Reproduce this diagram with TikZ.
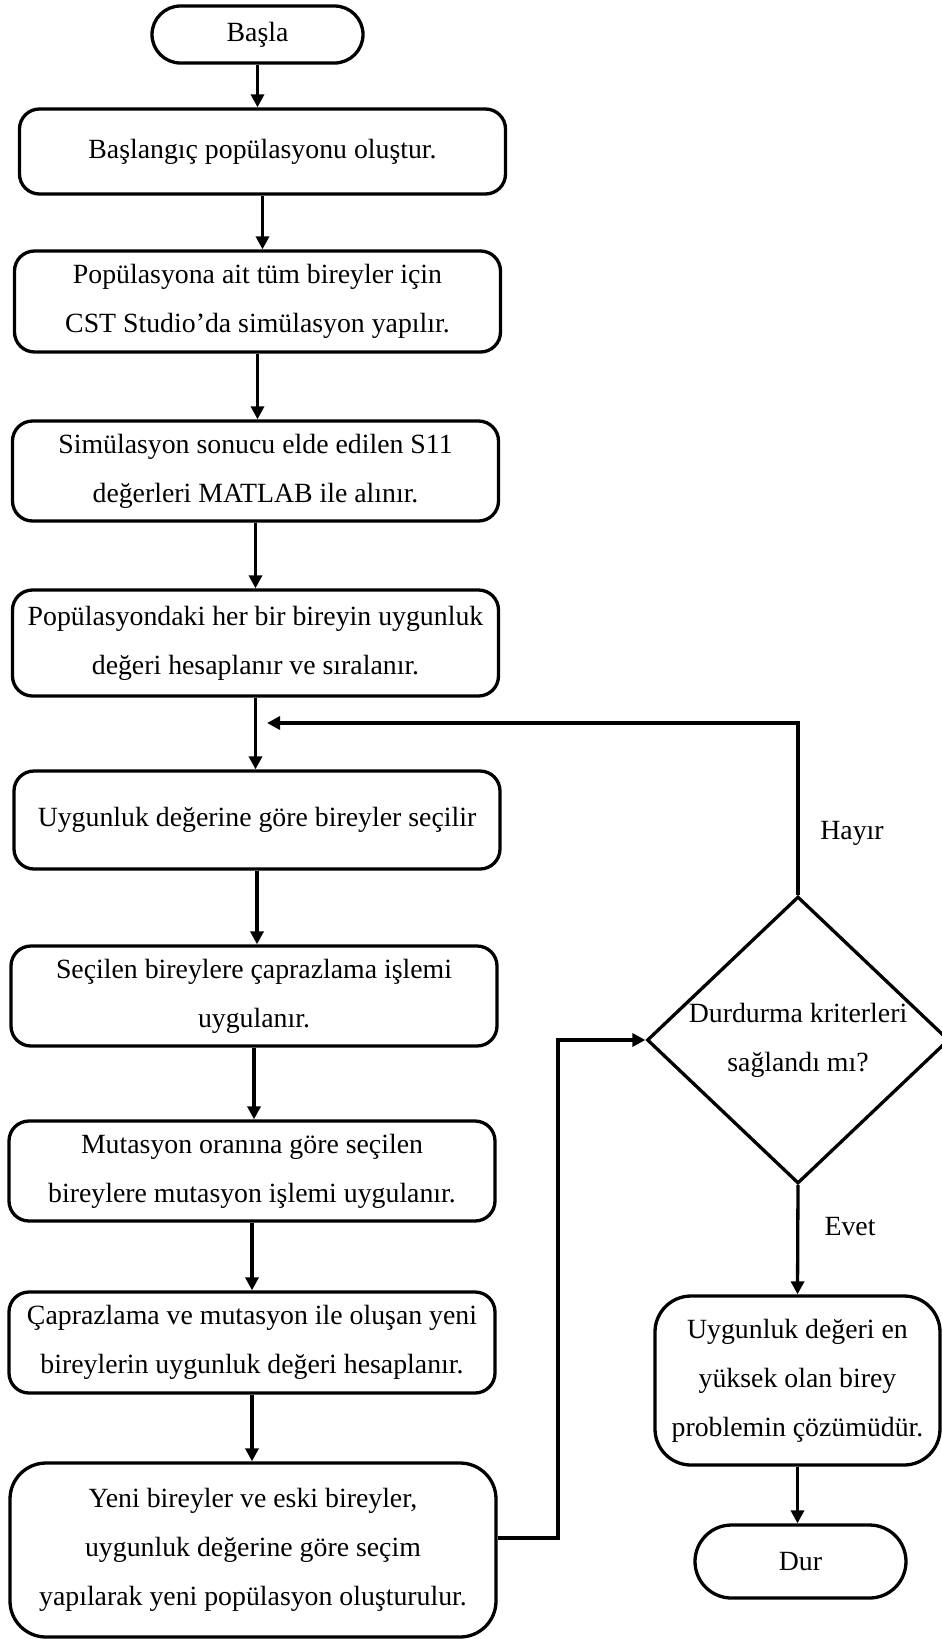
\documentclass[tikz,border=0pt]{standalone}
\usepackage{fontspec}
\setmainfont{Liberation Serif}
\usetikzlibrary{shapes.geometric,shapes.misc,arrows.meta}

\begin{document}
\begin{tikzpicture}[x=1pt,y=-1pt,line width=3.3pt,
        every node/.style={font=\fontsize{27.8}{49}\selectfont},
        term/.style={draw,rounded rectangle,minimum width=211pt,inner sep=0pt},
        proc/.style={draw,rectangle,rounded corners=20pt,align=center,minimum width=486pt,inner sep=0pt},
        decision/.style={draw,diamond,aspect=1.05,inner sep=0pt,minimum width=302pt,minimum height=287pt,align=center},
        arr/.style={-{Triangle[length=13pt,width=13pt]}}]
        \useasboundingbox (0,0) rectangle (942,1639);

        % left column
        \node[term,minimum height=57pt] (start) at (257.5,34.5) {Başla};
        \node[proc,minimum height=85pt] (b1) at (262.5,151.5) {Başlangıç popülasyonu oluştur.};
        \node[proc,minimum height=101pt] (b2) at (257.5,301.5) {Popülasyona ait tüm bireyler için\\CST Studio’da simülasyon yapılır.};
        \node[proc,minimum height=100pt] (b3) at (255.5,471) {Simülasyon sonucu elde edilen S11\\değerleri MATLAB ile alınır.};
        \node[proc,minimum height=106pt] (b4) at (255.5,643) {Popülasyondaki her bir bireyin uygunluk\\değeri hesaplanır ve sıralanır.};
        \node[proc,minimum height=98pt] (b5) at (257,820) {Uygunluk değerine göre bireyler seçilir};
        \node[proc,minimum height=100pt] (b6) at (254,996) {Seçilen bireylere çaprazlama işlemi\\uygulanır.};
        \node[proc,minimum height=100pt] (b7) at (252,1171) {Mutasyon oranına göre seçilen\\bireylere mutasyon işlemi uygulanır.};
        \node[proc,minimum height=101pt] (b8) at (252,1342.5) {Çaprazlama ve mutasyon ile oluşan yeni\\bireylerin uygunluk değeri hesaplanır.};
        \node[proc,minimum height=174pt,rounded corners=36pt] (b9) at (253,1550) {Yeni bireyler ve eski bireyler,\\uygunluk değerine göre seçim\\yapılarak yeni popülasyon oluşturulur.};

        % right column
        \node[decision] (dec) at (798,1040) {Durdurma kriterleri\\sağlandı mı?};
        \node[proc,minimum width=285pt,minimum height=169pt,rounded corners=36pt] (res) at (797.5,1380.5) {Uygunluk değeri en\\yüksek olan birey\\problemin çözümüdür.};
        \node[term,minimum height=73pt] (stop) at (800.5,1561.5) {Dur};

        \node (hayir) at (852,833) {Hayır};
        \node (evet) at (850,1227) {Evet};

        \foreach \a/\b in {start/b1,b1/b2,b2/b3,b3/b4,b4/b5,b5/b6,b6/b7,b7/b8,b8/b9}
            \draw[arr] (\a.south) -- (\a.south |- \b.north);

        \coordinate (back) at (267,723);
        \coordinate (bend) at (558,1040);
        \draw[arr] (dec.north) |- (back);
        \draw[arr] ([yshift=12pt]b9.east) -| (bend) -- (dec.west);
        \draw[arr] (dec.south) -- (res.north);
        \draw[arr] (res.south) -- (res.south |- stop.north);
\end{tikzpicture}
\end{document}
